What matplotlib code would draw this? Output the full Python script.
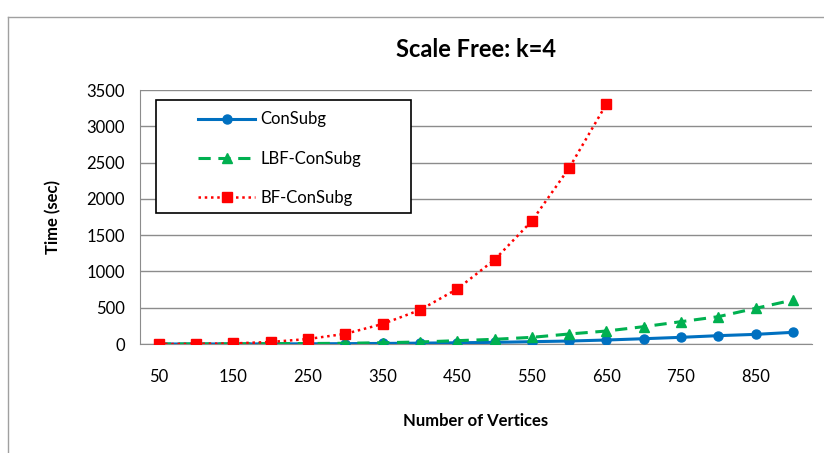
import matplotlib
matplotlib.use("Agg")
import matplotlib.pyplot as plt
from matplotlib.lines import Line2D
from matplotlib.patches import Rectangle

plt.rcParams['font.family'] = ['Lato', 'DejaVu Sans']

# timings per graph size
vertices = [50, 100, 150, 200, 250, 300, 350, 400, 450, 500, 550, 600, 650, 700, 750, 800, 850, 900]
consubg = [0, 0.5, 1, 2, 3, 5, 8, 12, 17, 23, 32, 41, 55, 73, 92, 115, 133, 161]
lbf_consubg = [0, 1, 2, 5, 7, 10, 18, 28, 46, 65, 92, 138, 179, 239, 308, 377, 492, 606]
bf_vertices = [50, 100, 150, 200, 250, 300, 350, 400, 450, 500, 550, 600, 650]
bf_consubg = [0, 2, 8, 28, 69, 140, 276, 468, 758, 1160, 1695, 2425, 3307]
xtick_labels = [50, 150, 250, 350, 450, 550, 650, 750, 850]

fig = plt.figure(figsize=(8.24, 4.53), dpi=100)
ax = fig.add_axes([0.170, 0.2406, 0.815, 0.5607])

# outer chart frame
fig.add_artist(Line2D([8 / 824, 8 / 824], [0, 1 - 17 / 453], transform=fig.transFigure,
                      color='#A0A0A0', lw=1))
fig.add_artist(Line2D([8 / 824, 1], [1 - 17 / 453, 1 - 17 / 453], transform=fig.transFigure,
                      color='#A0A0A0', lw=1))

ax.plot(vertices, consubg, color='#0070C0', lw=2.2, marker='o', ms=6.5, label='ConSubg', zorder=3)
ax.plot(vertices, lbf_consubg, color='#00B050', lw=2.2, ls=(0, (4, 2.5)), marker='^', ms=6.5,
        label='LBF-ConSubg', zorder=3)
ax.plot(bf_vertices, bf_consubg, color='#FF0000', lw=1.8, ls=(0, (1, 1.5)), marker='s', ms=7.5,
        label='BF-ConSubg', zorder=4)

ax.set_xlim(25, 925)
ax.set_ylim(0, 3500)
ax.set_yticks(range(0, 3501, 500))
ax.set_xticks(xtick_labels)
ax.tick_params(length=0, labelsize=12, pad=11)
ax.tick_params(axis='x', pad=18)
ax.grid(axis='y', color='#8C8C8C', lw=1)
ax.set_axisbelow(True)
for side in ['top', 'right']:
    ax.spines[side].set_visible(False)
for side in ['left', 'bottom']:
    ax.spines[side].set_color('#8C8C8C')

ax.set_title('Scale Free: k=4', fontsize=17, fontweight='bold', pad=24)
ax.set_xlabel('Number of Vertices', fontsize=12, fontweight='bold', labelpad=20)
ax.set_ylabel('Time (sec)', fontsize=12, fontweight='bold', labelpad=18)

# legend box drawn separately so the entries can sit inset from its edge
ax.add_patch(Rectangle((0.024, 0.516), 0.379, 0.445, transform=ax.transAxes,
                       facecolor='white', edgecolor='black', lw=1.2, zorder=5))
leg = ax.legend(loc='upper left', bbox_to_anchor=(0.072, 0.955), frameon=False,
                fontsize=12, handlelength=3.4, handletextpad=0.3, labelspacing=1.4,
                borderpad=0.6, borderaxespad=0)
leg.set_zorder(6)

fig.savefig('out.png', dpi=100)
